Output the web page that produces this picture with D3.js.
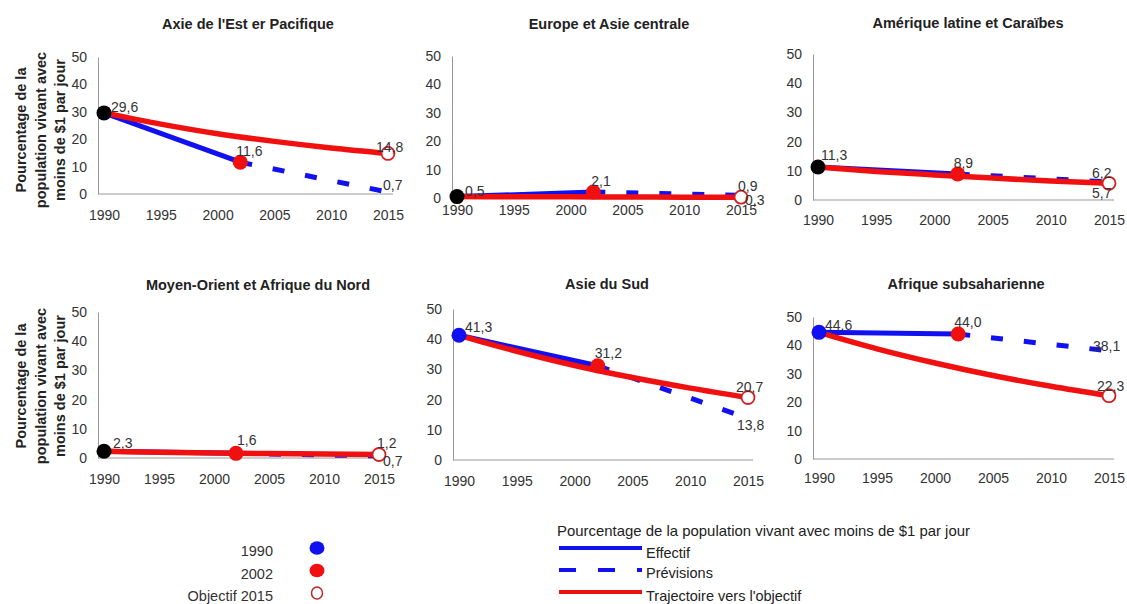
<!DOCTYPE html>
<html>
<head>
<meta charset="utf-8">
<script src="https://cdn.jsdelivr.net/npm/d3@7"></script>
<style>
  body { margin: 0; background: #fff; }
  svg { font-family: "Liberation Sans", Arial, sans-serif; }
  .tick text { fill: #333; font-size: 14px; }
</style>
</head>
<body>
<div id="grafico"></div>
<script>
// donnees
var regions = ["Axie de l'Est er Pacifique", "Europe et Asie centrale", "Amérique latine et Caraïbes",
               "Moyen-Orient et Afrique du Nord", "Asie du Sud", "Afrique subsaharienne"];
var annees = [1990, 2002, 2015];
var val1990 = [29.6, 0.5, 11.3, 2.3, 41.3, 44.6];
var val2002 = [11.6, 2.1, 8.9, 1.6, 31.2, 44.0];
var prev2015 = [0.7, 0.9, 6.2, 0.7, 13.8, 38.1];
var obj2015 = [14.8, 0.3, 5.7, 1.2, 20.7, 22.3];
var anneesTraj = [1990, 1995, 2000, 2005, 2010, 2015];
var trajectoire = [
  [29.6, 25.5, 22.0, 19.2, 16.8, 14.8],
  [0.5, 0.45, 0.4, 0.35, 0.3, 0.3],
  [11.3, 9.8, 8.6, 7.5, 6.5, 5.7],
  [2.3, 2.0, 1.75, 1.5, 1.35, 1.2],
  [41.3, 36.0, 31.3, 27.3, 23.8, 20.7],
  [44.6, 38.8, 33.8, 29.4, 25.6, 22.3]
];
var xTicks = [1990, 1995, 2000, 2005, 2010, 2015];
var yTicks = [0, 10, 20, 30, 40, 50];
var legendePoints = ["1990", "2002", "Objectif 2015"];
var legendeLignes = ["Effectif", "Prévisions", "Trajectoire vers l'objectif"];
var titreLegende = "Pourcentage de la population vivant avec moins de $1 par jour";
var titreY = ["Pourcentage de la", "population vivant avec", "moins de $1 par jour"];

// mise en page de chaque panneau (les images d'origine ne sont pas alignees)
var panneaux = [
  {ax: 98,  x0: 104, x1: 388, y50: 57,  y0: 194, xlab: 215, tx: 248, ty: 24,  ty2: 130, c1990: "#000"},
  {ax: 452, x0: 457, x1: 741, y50: 56,  y0: 198, xlab: 210, tx: 609, ty: 24,  c1990: "#000"},
  {ax: 813, x0: 818, x1: 1109, y50: 54, y0: 200, xlab: 220, tx: 968, ty: 23,  c1990: "#000"},
  {ax: 98,  x0: 104, x1: 379, y50: 312, y0: 458, xlab: 479, tx: 258, ty: 285, ty2: 386, c1990: "#000"},
  {ax: 453, x0: 459, x1: 748, y50: 309, y0: 460, xlab: 481, tx: 607, ty: 284, c1990: "#1010f0"},
  {ax: 813, x0: 819, x1: 1109, y50: 317, y0: 459, xlab: 478, tx: 966, ty: 284, c1990: "#1010f0"}
];
// decalage des etiquettes [1990, 2002, prevision, objectif]
var decalages = [
  [[7, -6], [-4, -11], [-5, -7], [-12, -6]],
  [[8, -5], [-2, -11], [-3, -9], [4, 3]],
  [[3, -12], [-4, -11], [-17, -9], [-17, 10]],
  [[9, -8], [1, -13], [4, 5], [-2, -11]],
  [[6, -8], [-3, -13], [-11, 7], [-12, -10]],
  [[6, -7], [-4, -12], [-16, -5], [-12, -10]]
];

var bleu = "#1010f0", rouge = "#f01010";

var svg = d3.select("#grafico").append("svg")
  .attr("width", 1127)
  .attr("height", 604);

function virgule(v) { return d3.format(".1f")(v).replace(".", ","); }

panneaux.forEach(function(p, i) {
  var x = d3.scaleLinear().domain([1990, 2015]).range([p.x0, p.x1]);
  var y = d3.scaleLinear().domain([0, 50]).range([p.y0, p.y50]);
  var g = svg.append("g");

  g.append("text")
    .attr("x", p.tx).attr("y", p.ty)
    .attr("dy", "0.35em")
    .attr("text-anchor", "middle")
    .attr("font-size", "14.5px")
    .attr("font-weight", "bold")
    .attr("fill", "#222")
    .text(regions[i]);

  var axeY = g.append("g")
    .attr("transform", "translate(" + p.ax + ",0)")
    .call(d3.axisLeft(y).tickValues(yTicks).tickSize(0).tickSizeOuter(0).tickPadding(11));
  axeY.select(".domain").attr("stroke", "#999");

  var axeX = g.append("g")
    .attr("transform", "translate(0," + p.y0 + ")")
    .call(d3.axisBottom(x).tickValues(xTicks).tickFormat(d3.format("d")).tickSize(0).tickPadding(p.xlab - p.y0 - 5));
  axeX.select(".domain").remove();
  g.append("line")
    .attr("x1", p.ax).attr("x2", x(2015) + 5)
    .attr("y1", y(0)).attr("y2", y(0))
    .attr("stroke", "#999");

  if (p.ty2) {
    var t = g.append("text")
      .attr("transform", "translate(0," + p.ty2 + ") rotate(-90)")
      .attr("text-anchor", "middle")
      .attr("font-size", "14.5px")
      .attr("font-weight", "bold")
      .attr("fill", "#222");
    titreY.forEach(function(l, k) {
      t.append("tspan").attr("x", 0).attr("y", 21 + k * 19.5).attr("dy", "0.35em").text(l);
    });
  }

  var ligne = d3.line().x(function(d) { return x(d[0]); }).y(function(d) { return y(d[1]); });

  g.append("path")
    .attr("d", ligne([[annees[0], val1990[i]], [annees[1], val2002[i]]]))
    .attr("stroke", bleu).attr("stroke-width", 5).attr("fill", "none");

  g.append("path")
    .attr("d", ligne([[annees[1], val2002[i]], [annees[2], prev2015[i]]]))
    .attr("stroke", bleu).attr("stroke-width", 5).attr("fill", "none")
    .attr("stroke-dasharray", "12,21");

  g.append("path")
    .attr("d", ligne.curve(d3.curveMonotoneX)(anneesTraj.map(function(a, k) { return [a, trajectoire[i][k]]; })))
    .attr("stroke", rouge).attr("stroke-width", 5.5).attr("fill", "none")
    .attr("stroke-linecap", "round");

  g.append("circle")
    .attr("cx", x(annees[0])).attr("cy", y(val1990[i])).attr("r", 7.5)
    .attr("fill", p.c1990);
  g.append("circle")
    .attr("cx", x(annees[1])).attr("cy", y(val2002[i])).attr("r", 7.5)
    .attr("fill", rouge);
  g.append("circle")
    .attr("cx", x(annees[2])).attr("cy", y(obj2015[i])).attr("r", 6.5)
    .attr("fill", "#fff").attr("stroke", "#d42020").attr("stroke-width", 1.8);

  var etiquettes = [
    [annees[0], val1990[i]], [annees[1], val2002[i]],
    [annees[2], prev2015[i]], [annees[2], obj2015[i]]
  ];
  g.selectAll(".val").data(etiquettes).enter().append("text")
    .attr("class", "val")
    .attr("x", function(d, k) { return x(d[0]) + decalages[i][k][0]; })
    .attr("y", function(d, k) { return y(d[1]) + decalages[i][k][1]; })
    .attr("dy", "0.35em")
    .attr("font-size", "14px")
    .attr("fill", "#333")
    .text(function(d) { return virgule(d[1]); });
});

// legende des points
var legP = svg.append("g");
var ly = d3.scalePoint().domain(legendePoints).range([551, 596]);
legP.selectAll("text").data(legendePoints).enter().append("text")
  .attr("x", 273).attr("y", function(d) { return ly(d); })
  .attr("dy", "0.35em")
  .attr("text-anchor", "end")
  .attr("font-size", "14.5px")
  .attr("fill", "#333")
  .text(function(d) { return d; });
legP.append("ellipse").attr("cx", 317).attr("cy", ly("1990") - 3).attr("rx", 7.5).attr("ry", 6.8).attr("fill", bleu);
legP.append("ellipse").attr("cx", 317).attr("cy", ly("2002") - 3).attr("rx", 7.5).attr("ry", 6.8).attr("fill", rouge);
legP.append("ellipse").attr("cx", 317).attr("cy", ly("Objectif 2015") - 3).attr("rx", 5.5).attr("ry", 6)
  .attr("fill", "#fff").attr("stroke", "#c02828").attr("stroke-width", 1.5);

// legende des lignes
var legL = svg.append("g");
legL.append("text")
  .attr("x", 557).attr("y", 531).attr("dy", "0.35em")
  .attr("font-size", "14.5px").attr("fill", "#222")
  .attr("textLength", 413).attr("lengthAdjust", "spacingAndGlyphs")
  .text(titreLegende);
var lly = d3.scalePoint().domain(legendeLignes).range([548, 592]);
var lty = [553, 573, 596];
legendeLignes.forEach(function(l, k) {
  var yy = lly(l);
  legL.append("line")
    .attr("x1", 559).attr("x2", 642).attr("y1", yy).attr("y2", yy)
    .attr("stroke", k == 2 ? rouge : bleu).attr("stroke-width", 4)
    .attr("stroke-dasharray", k == 1 ? "17,22" : null);
  legL.append("text")
    .attr("x", 646).attr("y", lty[k]).attr("dy", "0.35em")
    .attr("font-size", "14.5px").attr("fill", "#222")
    .text(l);
});
</script>
</body>
</html>
